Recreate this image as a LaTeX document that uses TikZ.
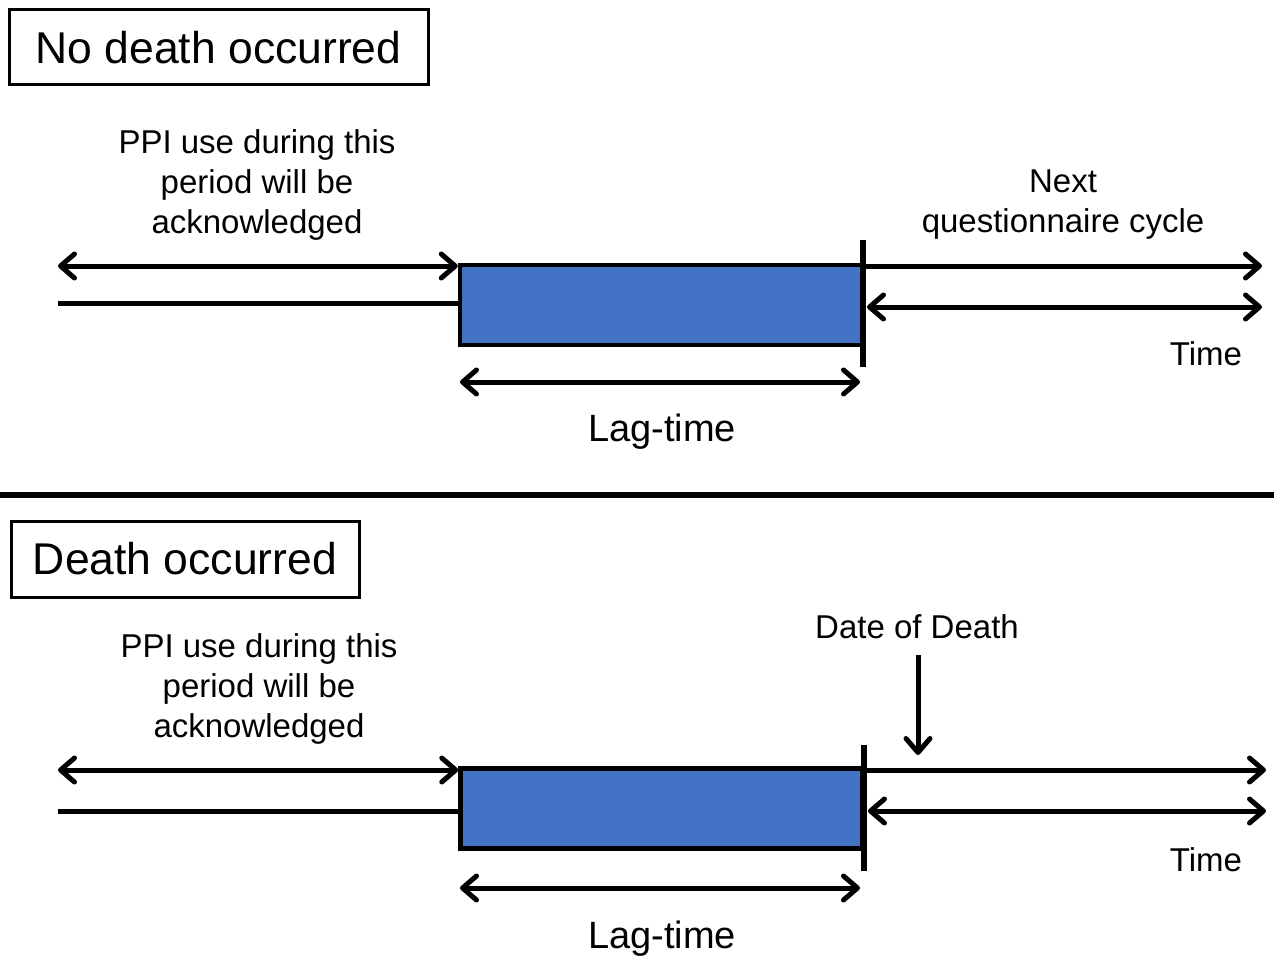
\documentclass[tikz,border=0pt]{standalone}
\usepackage{fontspec}
\setmainfont{Liberation Sans}
\usetikzlibrary{arrows.meta}
\definecolor{boxblue}{HTML}{4472C4}
\begin{document}
\begin{tikzpicture}[x=1pt,y=-1pt,
  ln/.style={line width=5pt},
  tick/.style={line width=5.5pt},
  arr/.style={ln, arrows={-Straight Barb[length=14pt,width=24pt,round]}},
  darr/.style={ln, arrows={Straight Barb[length=14pt,width=24pt,round]-Straight Barb[length=14pt,width=24pt,round]}},
  titlebox/.style={draw, line width=3pt, inner sep=0pt, font=\fontsize{44.5}{50}\selectfont},
  lagbox/.style={draw, line width=4.5pt, fill=boxblue, inner sep=0pt, minimum width=402pt, minimum height=80pt},
  lbl/.style={align=center, inner sep=0pt, font=\fontsize{33}{40}\selectfont},
  laglbl/.style={inner sep=0pt, font=\fontsize{38}{44}\selectfont},
]
\useasboundingbox (0,0) rectangle (1274,960);

% ---------- top panel ----------
\node[titlebox, minimum width=419pt, minimum height=75pt] (t1) at (218.5,47.5) {No death occurred\hspace{8pt}};
\node[lbl] (ppi1) at (257,185) {PPI use during this\\period will be\\acknowledged};
\node[lbl] (next1) at (1063,205) {Next\\questionnaire cycle};
\node[lagbox] (lag1) at (661,305) {};
\coordinate (a1l) at (58,266);
\coordinate (b1l) at (58,303);
\coordinate (tk1t) at (863,240);
\coordinate (tk1b) at (863,367);
\coordinate (r1a) at (1262,266);
\coordinate (r1b) at (1262,307);
\coordinate (r1bl) at (867,307);
\coordinate (lg1l) at (460,382);
\coordinate (lg1r) at (860,382);
\draw[darr] (a1l) -- (a1l -| lag1.west);
\draw[ln] (b1l) -- (b1l -| lag1.west);
\draw[tick] (tk1t) -- (tk1b);
\draw[arr] (r1a -| tk1t) -- (r1a);
\draw[darr] (r1bl) -- (r1b);
\draw[darr] (lg1l) -- (lg1r);
\node[lbl] (time1) at (1206,354) {Time};
\node[laglbl] (lt1) at (662,432) {Lag-time};

% separator
\coordinate (sepl) at (0,495);
\coordinate (sepr) at (1274,495);
\draw[line width=6.5pt] (sepl) -- (sepr);

% ---------- bottom panel ----------
\node[titlebox, minimum width=348pt, minimum height=76pt] (t2) at (185,559) {Death occurred};
\node[lbl] (ppi2) at (259,689) {PPI use during this\\period will be\\acknowledged};
\node[lbl] (dod) at (917,627) {Date of Death};
\node[lagbox] (lag2) at (661.5,808.5) {};
\coordinate (a2l) at (58,770);
\coordinate (b2l) at (58,811);
\coordinate (tk2t) at (864,745);
\coordinate (tk2b) at (864,871);
\coordinate (r2a) at (1266,770);
\coordinate (r2b) at (1266,811);
\coordinate (r2bl) at (868,811);
\coordinate (lg2l) at (460,888);
\coordinate (lg2r) at (860,888);
\coordinate (dd) at (918,755);
\coordinate (ddt) at (918,655);
\draw[darr] (a2l) -- (a2l -| lag2.west);
\draw[ln] (b2l) -- (b2l -| lag2.west);
\draw[tick] (tk2t) -- (tk2b);
\draw[arr] (r2a -| tk2t) -- (r2a);
\draw[darr] (r2bl) -- (r2b);
\draw[darr] (lg2l) -- (lg2r);
\draw[arr] (ddt) -- (dd);
\node[lbl] (time2) at (1206,860) {Time};
\node[laglbl] (lt2) at (662,939) {Lag-time};
\end{tikzpicture}
\end{document}
